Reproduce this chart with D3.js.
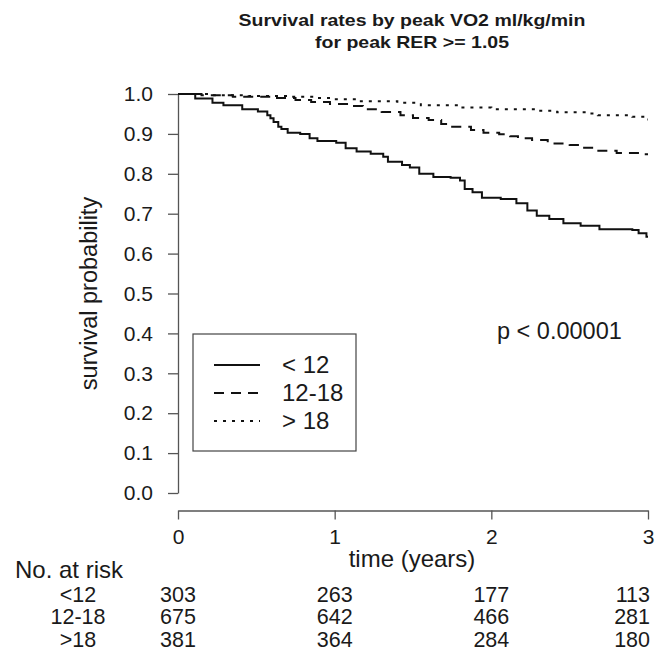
<!DOCTYPE html>
<html>
<head>
<meta charset="utf-8">
<script src="https://cdn.jsdelivr.net/npm/d3@7"></script>
<style>
  body { margin: 0; background: #fff; }
  text { font-family: "Liberation Sans", Arial, sans-serif; fill: #1a1a1a; }
</style>
</head>
<body>
<script>
// values
const titleLines = ["Survival rates by peak VO2 ml/kg/min", "for peak RER >= 1.05"]
const groups = ["< 12", "12-18", "> 18"]

const timeLow = [0, 0.11, 0.22, 0.29, 0.41, 0.51, 0.57, 0.59, 0.61, 0.64, 0.66, 0.70, 0.78, 0.84, 0.89, 1.01, 1.07, 1.14, 1.23, 1.31, 1.34, 1.43, 1.48, 1.54, 1.63, 1.74, 1.80, 1.83, 1.88, 1.94, 2.06, 2.16, 2.23, 2.29, 2.37, 2.46, 2.57, 2.69, 2.90, 2.94, 2.99, 3.0]
const survLow = [1.0, 0.989, 0.978, 0.972, 0.962, 0.956, 0.947, 0.939, 0.93, 0.918, 0.912, 0.903, 0.90, 0.889, 0.882, 0.878, 0.864, 0.856, 0.85, 0.843, 0.83, 0.822, 0.816, 0.80, 0.792, 0.79, 0.783, 0.762, 0.754, 0.74, 0.737, 0.726, 0.708, 0.695, 0.687, 0.676, 0.67, 0.661, 0.659, 0.651, 0.642, 0.642]

const timeMid = [0, 0.15, 0.35, 0.60, 0.75, 0.85, 0.97, 1.10, 1.18, 1.30, 1.42, 1.50, 1.60, 1.68, 1.75, 1.87, 1.95, 2.05, 2.12, 2.17, 2.26, 2.36, 2.50, 2.58, 2.66, 2.80, 2.95, 3.0]
const survMid = [1.0, 0.997, 0.993, 0.99, 0.985, 0.98, 0.975, 0.97, 0.962, 0.955, 0.947, 0.94, 0.935, 0.925, 0.918, 0.91, 0.903, 0.899, 0.894, 0.889, 0.885, 0.876, 0.872, 0.865, 0.858, 0.852, 0.849, 0.849]

const timeHigh = [0, 0.20, 0.45, 0.70, 0.90, 1.00, 1.15, 1.40, 1.55, 1.80, 2.00, 2.30, 2.42, 2.62, 2.68, 2.90, 2.97, 3.0]
const survHigh = [1.0, 0.997, 0.995, 0.993, 0.99, 0.987, 0.982, 0.978, 0.972, 0.966, 0.962, 0.958, 0.954, 0.951, 0.947, 0.943, 0.936, 0.936]

const yTicks = [0, 0.1, 0.2, 0.3, 0.4, 0.5, 0.6, 0.7, 0.8, 0.9, 1.0]
const xTicks = [0, 1, 2, 3]

const riskLabels = ["<12", "12-18", ">18"]
const riskLow = [303, 263, 177, 113]
const riskMid = [675, 642, 466, 281]
const riskHigh = [381, 364, 284, 180]

const pText = "p < 0.00001"

const svgWidth = 660
const svgHeight = 662

const svg = d3.select("body").append("svg")
    .attr("width", svgWidth)
    .attr("height", svgHeight)

const x = d3.scaleLinear().domain([0, 3]).range([178, 648])
const y = d3.scaleLinear().domain([0, 1]).range([493, 94])

const axisColor = "#555"

// title (the original type is set wide)
titleLines.forEach((t, i) => {
  svg.append("text")
    .attr("transform", `translate(412, ${26 + i * 21.5}) scale(1.22, 1)`)
    .attr("text-anchor", "middle")
    .attr("font-weight", "bold")
    .attr("font-size", 16)
    .text(t)
})

// y axis
const yAxisG = svg.append("g")
    .attr("transform", `translate(${x(0)}, 0)`)
    .call(d3.axisLeft(y).tickValues(yTicks).tickFormat(d3.format(".1f"))
      .tickSize(10).tickSizeOuter(0).tickPadding(15))
yAxisG.selectAll("text").attr("font-size", 21).attr("font-family", null)
yAxisG.selectAll("path, line").attr("stroke", axisColor).attr("stroke-width", 1.3)

// x axis, offset below the plot as R does
const xAxisG = svg.append("g")
    .attr("transform", "translate(0, 510.5)")
    .call(d3.axisBottom(x).tickValues(xTicks).tickFormat(d3.format("d"))
      .tickSize(9).tickSizeOuter(0).tickPadding(10))
xAxisG.selectAll("text").attr("font-size", 21).attr("font-family", null)
xAxisG.selectAll("path, line").attr("stroke", axisColor).attr("stroke-width", 1.3)

svg.append("text")
    .attr("x", 412)
    .attr("y", 567)
    .attr("text-anchor", "middle")
    .attr("font-size", 24)
    .text("time (years)")

svg.append("text")
    .attr("transform", `translate(97, ${(y(0) + y(1)) / 2}) rotate(-90)`)
    .attr("text-anchor", "middle")
    .attr("font-size", 23.5)
    .text("survival probability")

// curves
const dashes = [null, "10,7", "3,6"]
const series = [
  { name: groups[0], times: timeLow, surv: survLow },
  { name: groups[1], times: timeMid, surv: survMid },
  { name: groups[2], times: timeHigh, surv: survHigh }
]

const line = d3.line()
    .x(d => x(d[0]))
    .y(d => y(d[1]))
    .curve(d3.curveStepAfter)

svg.selectAll("path.km")
    .data(series)
    .enter()
    .append("path")
    .attr("class", "km")
    .attr("d", s => line(s.times.map((t, i) => [t, s.surv[i]])))
    .attr("fill", "none")
    .attr("stroke", "#111")
    .attr("stroke-width", 2)
    .attr("stroke-dasharray", (s, i) => dashes[i])

// legend
const legend = svg.append("g")
legend.append("rect")
    .attr("x", 193)
    .attr("y", 334)
    .attr("width", 163)
    .attr("height", 117)
    .attr("fill", "#fff")
    .attr("stroke", "#444")
    .attr("stroke-width", 1.2)

groups.forEach((g, i) => {
  const ly = 365 + i * 28
  legend.append("line")
    .attr("x1", 214)
    .attr("x2", 260)
    .attr("y1", ly)
    .attr("y2", ly)
    .attr("stroke", "#111")
    .attr("stroke-width", 2)
    .attr("stroke-dasharray", dashes[i])
  legend.append("text")
    .attr("x", 282)
    .attr("y", ly)
    .attr("dy", "0.35em")
    .attr("font-size", 24)
    .text(g)
})

svg.append("text")
    .attr("x", 497)
    .attr("y", 339)
    .attr("font-size", 23.5)
    .text(pText)

// number at risk table
svg.append("text")
    .attr("x", 15)
    .attr("y", 578)
    .attr("font-size", 24)
    .text("No. at risk")

const riskRows = [riskLow, riskMid, riskHigh]
riskRows.forEach((row, r) => {
  const by = 602 + r * 22.3
  svg.append("text")
    .attr("x", 78)
    .attr("y", by)
    .attr("text-anchor", "middle")
    .attr("font-size", 21.5)
    .text(riskLabels[r])
  row.forEach((n, i) => {
    const last = i === xTicks.length - 1
    svg.append("text")
      .attr("x", last ? x(xTicks[i]) + 2 : x(xTicks[i]))
      .attr("y", by)
      .attr("text-anchor", last ? "end" : "middle")
      .attr("font-size", 21.5)
      .text(n)
  })
})
</script>
</body>
</html>
